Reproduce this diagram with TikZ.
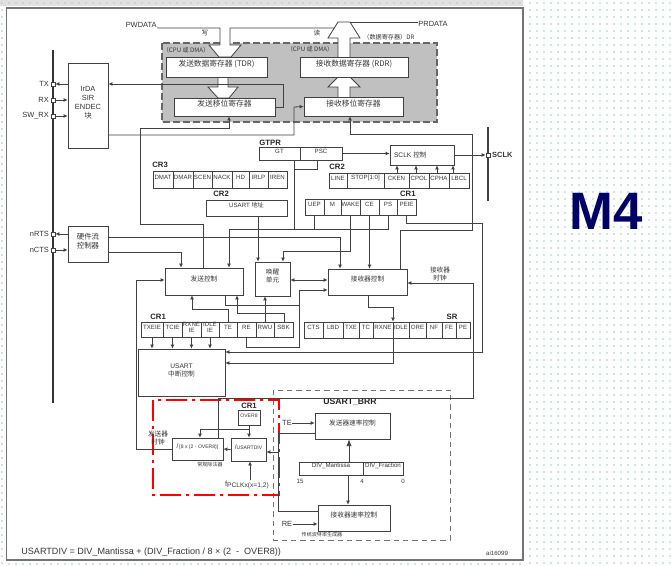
\documentclass[tikz,border=0pt]{standalone}
\usepackage{fontspec}
\setmainfont{Liberation Sans}
\newfontfamily\cjk{Noto Sans CJK SC}
\usetikzlibrary{arrows.meta, fit}

\definecolor{lineg}{RGB}{65,65,65}
\definecolor{txtg}{RGB}{55,55,55}
\definecolor{dotg}{RGB}{40,150,125}
\definecolor{navy}{RGB}{0,0,102}
\definecolor{shade}{RGB}{192,192,192}
\newcommand{\fcell}{\fontsize{4.6}{4.9}\selectfont}
\newcommand{\fsmall}{\fontsize{3.8}{4}\selectfont}
\newcommand{\fblk}{\fontsize{5}{6}\selectfont}
\newcommand{\fpin}{\fontsize{5.6}{6.6}\selectfont}

\begin{document}
\begin{tikzpicture}[x=0.75pt, y=-0.75pt, line width=0.6pt,
  blk/.style={draw=lineg, fill=white, inner sep=0pt, text=txtg, align=center, font=\fblk},
  cell/.style={blk, font=\fcell},
  padsq/.style={draw=lineg, fill=white, minimum size=3pt, inner sep=0pt},
  pinlbl/.style={font=\fpin, text=txtg, inner sep=1pt},
  reglbl/.style={font=\bfseries\fontsize{5.8}{6}\selectfont, text=black!85, inner sep=0pt},
  txtlbl/.style={font=\fblk, text=txtg, inner sep=0pt, align=center},
  wire/.style={draw=lineg},
  arr/.style={draw=lineg, -{Latex[length=3pt,width=3pt]}}]
\useasboundingbox (0,0) rectangle (671,566);

% screenshot background
\fill[white] (0,0) rectangle (671,566);
\fill[black!12] (0,0) rectangle (523,6);
\foreach \x in {2,9,...,520} \fill[black!35] (\x,3) circle (0.45pt);
\foreach \x in {530,537,...,670} \foreach \y in {3,10,...,566} \fill[dotg] (\x,\y) circle (0.55pt);
\foreach \y in {10,17,...,566} \fill[dotg] (2,\y) circle (0.55pt);
\foreach \x in {9,16,...,520} \fill[dotg] (\x,564) circle (0.55pt);
\draw[black!55, line width=0.9pt] (6.5,8) rectangle (523,560);
\node[anchor=base, text=navy, font=\bfseries\fontsize{39.5}{40}\selectfont, inner sep=0pt] (mfour) at (606.5,230) {M4};

% frames of the baud rate part
\draw[black!55, dash pattern=on 4pt off 3pt] (273,390) rectangle (450,540);
\draw[red, line width=2pt, dash pattern=on 16pt off 3.5pt on 2.5pt off 3.5pt] (153,400) rectangle (279,495);

% data registers
\draw[fill=shade, draw=black!60, line width=0.9pt, dash pattern=on 5pt off 2.5pt] (162,43) rectangle (437,122);
\node[anchor=base east, pinlbl, inner sep=0pt] (pwdata) at (157,28) {PWDATA};
\node[anchor=west, pinlbl, inner sep=0pt] (prdata) at (418,24) {PRDATA};
\draw[wire, fill=white] (pwdata.base east) -- (220,28) -- (220,45) -- (209,45) -- (219,57) -- (231,57) -- (241,45) -- (230,45) -- (230,28) -- (334,28);
\draw[wire, fill=white] (338,57) -- (338,38) -- (328,38) -- (338,22) -- (350,22) -- (360,38) -- (350,38) -- (350,57);
\draw[wire] (350,22) -- (prdata.west |- 0,22);
\draw[wire, fill=white] (218,77) -- (218,87) -- (208,87) -- (218,98) -- (229,98) -- (238,87) -- (228,87) -- (228,77);
\draw[wire, fill=white] (338,97) -- (338,87) -- (328,87) -- (338,77) -- (350,77) -- (360,87) -- (350,87) -- (350,97);
\node[txtlbl] (wr) at (205,33) {\cjk 写};
\node[txtlbl] (rd) at (317,33) {\cjk 读};
\node[txtlbl, anchor=west, font=\fcell] (drlbl) at (363,37) {\cjk （数据寄存器）DR};
\node[txtlbl, font=\fcell] (cpu1) at (186,50) {\cjk （CPU 或 DMA）};
\node[txtlbl, font=\fcell] (cpu2) at (310,49) {\cjk （CPU 或 DMA）};
\node[blk, font=\fontsize{5.8}{6}\selectfont, fit={(166,57) (267,77)}] (tdr) {\cjk 发送数据寄存器 (TDR)};
\node[blk, font=\fontsize{5.8}{6}\selectfont, fit={(300,57) (408,77)}] (rdr) {\cjk 接收数据寄存器 (RDR)};
\node[blk, font=\fontsize{5.8}{6}\selectfont, fit={(174,98) (275,116)}] (tsr) {\cjk 发送移位寄存器};
\node[blk, font=\fontsize{5.8}{6}\selectfont, fit={(304,97) (403,116)}] (rsr) {\cjk 接收移位寄存器};

% pins and pads
\draw[black!80, line width=1.5pt] (53,50) -- (53,403);
\draw[lineg, line width=1pt] (488,127) -- (488,201);
\node[blk, font=\fpin, align=left, fit={(68,63) (108,148)}] (irda) {IrDA\\SIR\\ENDEC\\{\cjk 块}};
\node[blk, font=\fpin, fit={(68,226) (108,262)}] (hwfc) {\cjk 硬件流\\\cjk 控制器};
\node[padsq, label={[pinlbl]left:TX}] (txpin) at (53,84) {};
\node[padsq, label={[pinlbl]left:RX}] (rxpin) at (53,100) {};
\node[padsq, label={[pinlbl]left:SW\_RX}] (swpin) at (53,116) {};
\node[padsq, label={[pinlbl]left:nRTS}] (rtspin) at (53,234) {};
\node[padsq, label={[pinlbl]left:nCTS}] (ctspin) at (53,250) {};
\node[padsq, label={[pinlbl, font=\bfseries\fpin]right:SCLK}] (sclkpin) at (488,155) {};
\draw[arr] (irda.west |- txpin) -- (txpin);
\draw[arr] (rxpin) -- (irda.west |- rxpin);
\draw[arr] (swpin) -- (irda.west |- swpin);
\draw[arr] (hwfc.west |- rtspin) -- (rtspin);
\draw[arr] (ctspin) -- (hwfc.west |- ctspin);

% control registers
\node[reglbl, anchor=west] (gtprlbl) at (259,143) {GTPR};
\node[cell, fit={(259,147) (300,160)}] (gt) {GT};
\node[cell, fit={(300,147) (342,160)}] (psc) {PSC};
\node[blk, fit={(390,145) (454,165)}, label={[txtlbl, anchor=west]west:\hspace{3pt}{SCLK \cjk 控制}}] (sclkctl) {};
\node[reglbl, anchor=west] (cr3lbl) at (152,165) {CR3};
\foreach \i/\xa/\xb/\t in {1/153/173/DMAT, 2/173/193/DMAR, 3/193/212/SCEN, 4/212/232/NACK, 5/232/249/HD, 6/249/268/IRLP, 7/268/287/IREN}
  \node[cell, fit={(\xa,171) (\xb,188)}] (cr3-\i) {\t};
\node[reglbl, anchor=west] (cr2lbl) at (329,167) {CR2};
\foreach \i/\xa/\xb/\t in {1/329/347/LINE, 2/347/384/STOP[1:0], 3/384/409/CKEN, 4/409/429/CPOL, 5/429/449/CPHA, 6/449/469/LBCL}
  \node[cell, fit={(\xa,173) (\xb,188)}] (cr2-\i) {\t};
\node[reglbl, anchor=west] (cr2blbl) at (213,194) {CR2};
\node[blk, font=\fcell, fit={(206,200) (287,216)}] (addr) {USART {\cjk 地址}};
\node[reglbl, anchor=east] (cr1albl) at (416,194) {CR1};
\foreach \i/\xa/\xb/\t in {1/305/324/UEP, 2/324/341/M, 3/341/360/WAKE, 4/360/379/CE, 5/379/397/PS, 6/397/416/PEIE}
  \node[cell, fit={(\xa,199) (\xb,215)}] (cr1a-\i) {\t};

% control blocks
\node[blk, fit={(165,268) (243,295)}] (txctl) {\cjk 发送控制};
\node[blk, fit={(255,262) (290,296)}] (wake) {\cjk 唤醒\\\cjk 单元};
\node[blk, fit={(328,269) (407,295)}] (rxctl) {\cjk 接收器控制};
\node[txtlbl] (rxclk) at (440,274) {\cjk 接收器\\\cjk 时钟};
\node[reglbl, anchor=west] (cr1blbl) at (150,317) {CR1};
\foreach \i/\xa/\xb/\t in {1/141/163/TXEIE, 2/163/182/TCIE, 3/182/201/{RXNE\\IE}, 4/201/219/{IDLE\\IE}, 5/219/237/TE, 6/237/256/RE, 7/256/274/RWU, 8/274/293/SBK}
  \node[cell, fit={(\xa,322) (\xb,337)}] (cr1b-\i) {\t};
\node[reglbl] (srlbl) at (452,317) {SR};
\foreach \i/\xa/\xb/\t in {1/304/323/CTS, 2/323/343/LBD, 3/343/359/TXE, 4/359/373/TC, 5/373/393/RXNE, 6/393/409/IDLE, 7/409/426/ORE, 8/426/442/NF, 9/442/456/FE, 10/456/470/PE}
  \node[cell, fit={(\xa,322) (\xb,338)}] (sr-\i) {\t};
\node[blk, fit={(138,349) (225,396)}] (usartint) {USART\\\cjk 中断控制};

% baud rate
\node[reglbl] (cr1clbl) at (249,406) {CR1};
\node[cell, font=\fsmall, fit={(238,410) (260,425)}] (over8) {OVER8};
\node[blk, font=\fsmall, fit={(172,438) (223,460)}] (div8) {{\fblk /}\,[8 x (2 - OVER8)]};
\node[blk, font=\fsmall, fit={(231,438) (266,461)}] (usartdiv) {{\fblk /}USARTDIV};
\node[txtlbl, font=\fsmall] (convlbl) at (210,465) {\cjk 常规除法器};
\node[txtlbl, font=\fpin] (fpclk) at (247,485) {f\raisebox{-1.2pt}{\fblk PCLKx(x=1,2)}};
\node[txtlbl] (txclk) at (158,438) {\cjk 发送器\\\cjk 时钟};
\node[reglbl, font=\bfseries\fontsize{6.5}{7}\selectfont] (brrlbl) at (350,402) {USART\_BRR};
\node[blk, fit={(315,413) (390,439)}] (txrate) {\cjk 发送器速率控制};
\node[blk, fit={(318,505) (390,531)}] (rxrate) {\cjk 接收器速率控制};
\node[cell, fit={(299,462) (363,475)}] (mant) {DIV\_Mantissa};
\node[cell, fit={(363,462) (403,475)}] (frac) {DIV\_Fraction};
\node[txtlbl, font=\fcell] (b15) at (300,481) {15};
\node[txtlbl, font=\fcell] (b4) at (362,481) {4};
\node[txtlbl, font=\fcell] (b0) at (403,481) {0};
\node[txtlbl, font=\fpin] (te2) at (287,423) {TE};
\node[txtlbl, font=\fpin] (re2) at (287,524) {RE};
\node[txtlbl, font=\fsmall] (fraclbl) at (322,535) {\cjk 传统波特率生成器};
\node[txtlbl, anchor=west, font=\fontsize{6.8}{7}\selectfont] (formula) at (21,552) {USARTDIV = DIV\_Mantissa + (DIV\_Fraction / 8 × (2~~-~~OVER8))};
\node[txtlbl, font=\fcell] (figid) at (497,553) {ai16099};

% data path connectors
\draw[arr] (tsr.east) -| (283,84) -- (irda.east |- 0,84);
\draw[arr] (irda.east |- 0,135) -| (294,107) -- (rsr.west);
\draw[arr] (txctl.north -| 203,0) |- (140,224) |- (229,128) -- (tsr.south -| 229,0);
\draw[arr] (rxctl.north -| 400,0) |- (472,230) |- (350,134) -- (rsr.south -| 350,0);

% clock and register connectors
\draw[arr] (psc.east) -- (psc.east -| sclkctl.west);
\draw[arr] (sclkctl.east) -- (sclkpin);
\foreach \i/\x in {3/397, 4/416, 5/437, 6/453}
  \draw[arr] (cr2-\i.north -| \x,0) -- (sclkctl.south -| \x,0);
\draw[wire] (psc.south -| 317,0) |- (294,169);
\draw[wire] (gt.south -| 294,0) -- (294,229);
\draw[wire] (cr1a-1.south) -- (cr1a-1.south |- 0,229);
\draw[arr] (cr1a-5.south) |- (229,229) -- (txctl.north -| 229,0);
\draw[arr] (cr1a-3.south) |- (283,251) -- (wake.north -| 283,0);
\draw[arr] (cr1a-4.south) -- (rxctl.north -| cr1a-4.south);
\draw[arr] (cr1a-6.south) |- (482,223) |- (usartint.east |- 0,352);
\draw[arr] (addr.south -| 258,0) -- (wake.north -| 258,0);
\draw[arr] (hwfc.east |- 0,237) -| (rxctl.north -| 340,0);
\draw[arr] (hwfc.east |- 0,252) -| (txctl.north -| 181,0);
\draw[{Latex[length=3pt,width=3pt]}-{Latex[length=3pt,width=3pt]}, draw=lineg] (wake.east |- 0,280) -- (rxctl.west |- 0,280);

% CR1 / SR connectors
\draw[arr] (cr1b-5.north) |- (192,309) -- (txctl.south -| 192,0);
\draw[arr] (cr1b-8.north -| 284,0) |- (237,313) -- (txctl.south -| 237,0);
\draw[arr] (cr1b-7.north) -- (wake.south -| cr1b-7.north);
\draw[arr] (cr1b-6.south) |- (299,347) |- (rxctl.west |- 0,290);
\draw[wire] (txctl.south -| 225,0) |- (299,305);
\foreach \i in {1,2,3,4}
  \draw[arr] (cr1b-\i.south) -- (usartint.north -| cr1b-\i.south);
\draw[arr] (rxctl.south -| 368,0) |- (393,307) -- (sr-5.north -| 393,0);
\draw[arr] (sr-5.south -| 393,0) |- (usartint.east |- 0,363);

% baud rate connectors
\draw[arr] (div8.west) -| (136,280) -- (txctl.west |- 0,280);
\draw[arr] (div8.north -| 218,0) |- (473,398) |- (rxctl.east |- 0,283);
\draw[arr] (over8.south) -- (usartdiv.north -| over8.south);
\draw[arr] (over8.south |- 0,429) -| (div8.north -| 200,0);
\draw[arr] (usartdiv.west) -- (div8.east);
\draw[arr] (fpclk.north -| 250,0) -- (usartdiv.south -| 250,0);
\draw[wire] (txrate.west |- 0,433) -| (278,511) -- (rxrate.west |- 0,511);
\draw[arr] (278,452) -- (usartdiv.east |- 0,452);
\draw[arr] (te2) -- (txrate.west |- te2);
\draw[arr] (re2) -- (rxrate.west |- re2);
\draw[draw=lineg, -{Latex[length=5pt,width=4pt]}] (mant.north -| 349,0) -- (txrate.south -| 349,0);
\draw[arr] (mant.south -| 348,0) -- (rxrate.north -| 348,0);
\end{tikzpicture}
\end{document}
